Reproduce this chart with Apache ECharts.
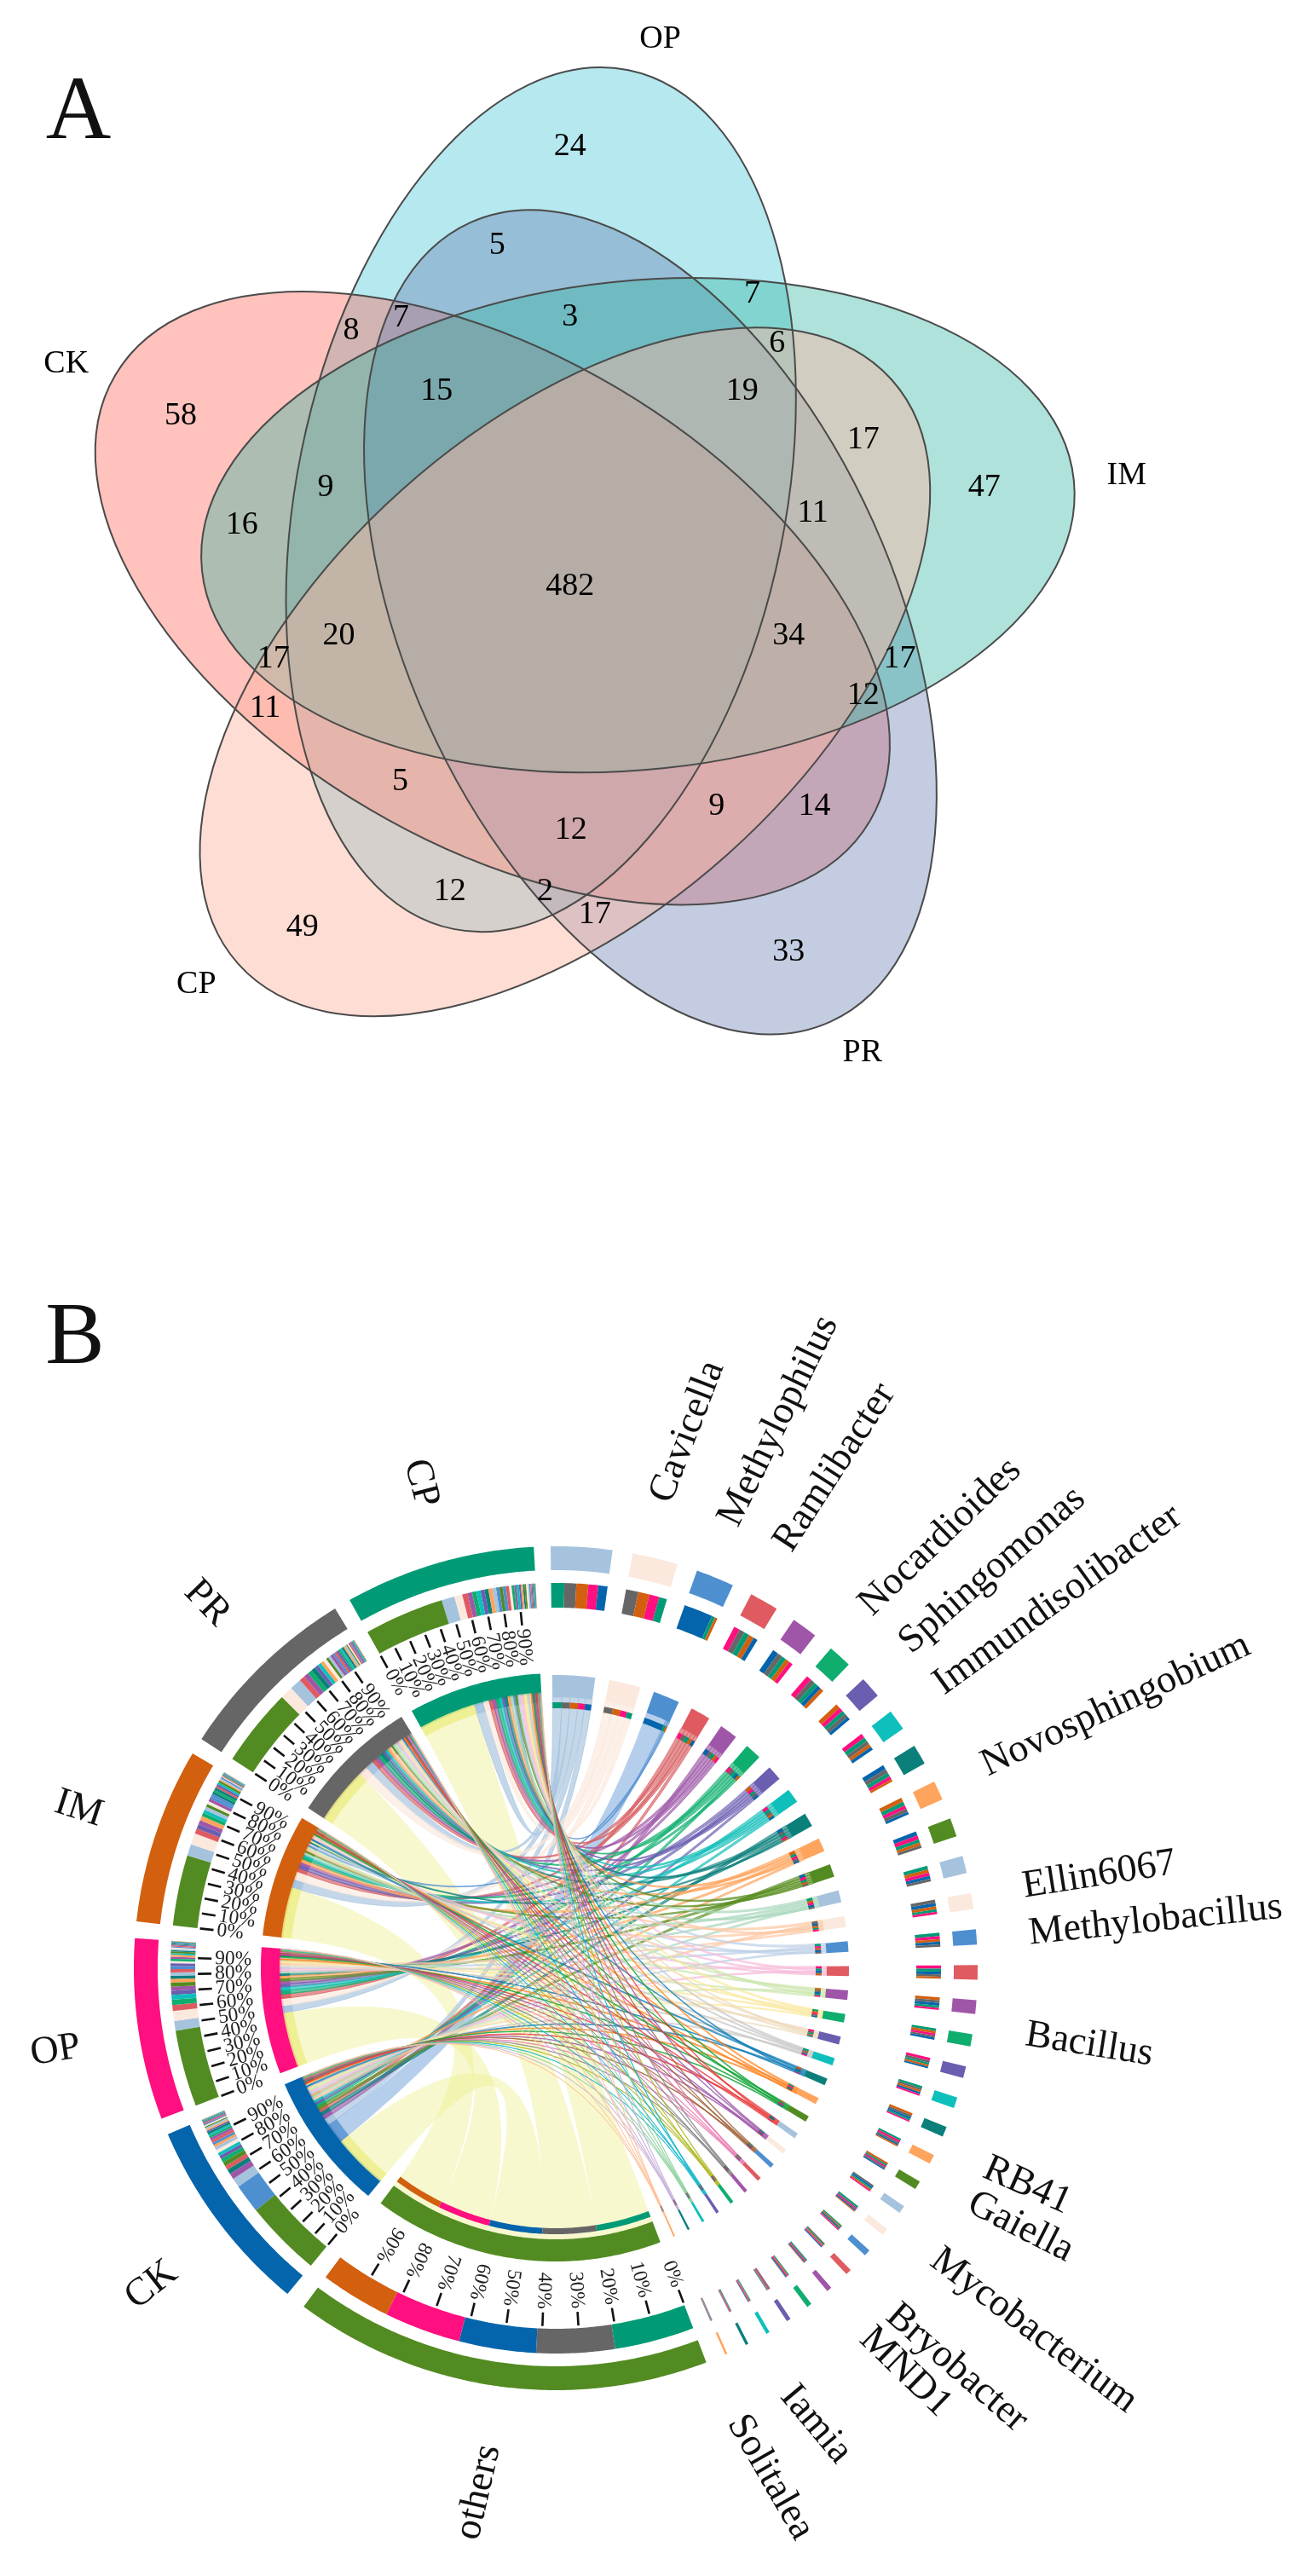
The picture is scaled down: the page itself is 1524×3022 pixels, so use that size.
<!DOCTYPE html>
<html><head><meta charset="utf-8">
<script src="https://cdn.jsdelivr.net/npm/echarts@6/dist/echarts.min.js"></script>
<style>html,body{margin:0;padding:0;background:#fff}#c{width:1524px;height:3022px}</style>
</head><body><div id="c"></div>
<script>
// ---------- Panel A data ----------
const vennSets = ['OP','CK','PR','IM','CP'];
const vennCounts = [24,5,7,7,8,3,6,58,15,19,17,47,9,16,11,482,20,34,17,17,11,12,5,9,14,12,12,2,17,49,33];
const vennSetColors = ['#46C5D7','#FF6657','#697FB1','#34B6A2','#FDB4A0'];
const vennSetAlpha = [0.4,0.4,0.4,0.4,0.45];
// ---------- Panel B data ----------
const samples = ['CP','PR','IM','OP','CK'];
const sampleColors = ['#009B76','#666666','#D2600F','#FF0F7F','#0565AC'];
const othersShare = [12.1,11.9,10.7,11.6,11.7];
const taxaColorCycle = ['#A6C3DE','#FBE9DD','#4E8FD0','#DF5B61','#A056A8','#0FAE6E','#6A5EB0','#0FBFBB','#0B7F7A','#FFA45C','#528B22'];
const othersColor = '#528B22';
const othersRibbon = '#EDEF8A';
const ribbonColors = ['#A6C3DE','#FBE8DC','#5B93D3','#D85C5F','#9E57A9','#0AAE6D','#6A5EB2','#12BEB9','#0A7F7C','#FFA35A','#5A8F22','#A8D8BC','#FDC9A6','#BED0E8','#F7BEDB','#CDE6B0','#FBE8A0','#F0DCC0','#C9C9C9','#1680B8','#FF8420','#0AA030','#E83A3A','#9E57A9','#A0623A','#E878B0','#858585','#B0B820','#10B5CC','#8FD2A0','#C8B0DA','#FFC196'];
// rows: taxa clockwise from Cavicella; columns: CP, PR, IM, OP, CK
const taxaAbundance = [
[2.0,1.8,1.8,1.5,1.4],[1.2,1.9,1.7,1.5,0],[.5,0,.4,0,4.4],[.8,.85,.8,.9,.65],[.7,.75,.65,.6,.9],
[.65,.7,.55,.8,.6],[.6,.55,.7,.65,.5],[.65,.55,.5,.7,.5],[.6,.65,.35,.5,.7],[.6,.5,.65,.55,.4],
[.5,.4,.45,.6,.65],[.55,.4,.5,.5,.45],[.4,.5,.45,.35,.5],[.5,.35,.4,.45,.4],[.45,.35,.3,.5,.4],
[.35,.4,.45,.3,.4],[.4,.3,.35,.35,.3],[.3,.35,.3,.4,.25],[.35,.3,.3,.25,.3],[.25,.3,.35,.2,.3],
[.3,.25,.2,.3,.25],[.25,.2,.3,.25,.2],[.2,.25,.2,.2,.25],[.25,.2,.15,.2,.2],[.2,.15,.2,.15,.2],
[.15,.2,.15,.15,.15],[.15,.15,.1,.15,.15],[.15,.1,.15,.15,.15],[.1,.15,.1,.15,.1],[.1,.1,.1,.1,.1],
[.1,.1,.05,.1,.05],[.05,.1,.05,.05,.05]];
const tickLabels = ['0%','10%','20%','30%','40%','50%','60%','70%','80%','90%'];
const SERIF = '"Liberation Serif","Times New Roman",serif';

// ---------- Panel A layout (axis units: 1568 across the page width) ----------
const VY = 0.9188;
const vennShapes = [ // cx, cy, rx, ry, rotation deg ; same order as vennSets
 [653,603,529,295,78.5],[594.5,722,529,295,-30.6],[785,751,529,295,114.2],[770,634,529,295,5.9],[682,811,529,295,41.8]];
const vennCountPos = [[688,193],[600,322],[908,386],[484,418],[424,434],[688,417],[938,451],[218,546],[527,514],[896,514],[1042,578],[1188,641],[393,641],[292,690],[981,674],[688,770],[409,835],[952,835],[330,866],[1086,866],[320,931],[1042,914],[483,1027],[865,1059],[983,1059],[689,1091],[543,1171],[658,1171],[718,1202],[365,1218],[952,1251]].map(p=>[p[0],p[1]*VY]);
const vennNamePos = {OP:[797,52*VY],CK:[80,478*VY],IM:[1360,625*VY],CP:[237,1294*VY],PR:[1041,1383*VY]};

// ---------- Panel B layout ----------
const CX=652, CY=2309, GAP_T=2.8, GAP_S=2.3;
const R={outer:[467,495],mid:[423,452],inner:[322,346],taxaInner:[318,344],taxaStack:[305,312],taxaRibbon:318,sampleBand:[312,324],sampleRibbon:322,tick:[404,420],label:400};
const outerLabels = [ // text, x, y (reference crop units), rotation
 ['Cavicella',830,185,69],['Methylophilus',940,172,64],['Ramlibacter',1008,228,57],['Nocardioides',1135,312,44],['Sphingomonas',1198,352,41],['Immundisolibacter',1277,388,36],['Novosphingobium',1347,515,25],['Ellin6067',1327,720,9],['Methylobacillus',1395,775,6],['Bacillus',1315,925,-9],['RB41',1240,1095,-24],['Gaiella',1232,1145,-27],['Mycobacterium',1248,1270,-37],['Bryobacter',1155,1315,-41],['MND1',1093,1320,-44],['Iamia',985,1383,-50],['Solitalea',930,1447,-60],['others',578,1465,77],['CP',508,247,-75],['PR',250,392,-46],['IM',95,640,-18],['OP',67,932,9],['CK',183,1215,38]];

// ---------- derive sectors ----------
const matrix = taxaAbundance.concat([othersShare]); // last row = others
const nT = matrix.length;
const ringSamples = [4,3,2,1,0]; // CK, OP, IM, PR, CP clockwise
let cur = 0; const taxaSec = [], sampleSec = {};
for (let t=0;t<nT;t++){ const size=matrix[t].reduce((a,b)=>a+b,0); taxaSec.push({a0:cur,a1:cur+size}); cur+=size+GAP_T; }
ringSamples.forEach(s=>{ const size=matrix.reduce((a,r)=>a+r[s],0); sampleSec[s]={a0:cur,a1:cur+size}; cur+=size+GAP_S; });
const TOTAL = cur;
const flows = [];
matrix.forEach((row,t)=>{ let a=taxaSec[t].a0;
  row.map((v,s)=>[v,s]).filter(x=>x[0]>0).sort((p,q)=>q[0]-p[0]).forEach(([v,s])=>{ flows.push({t,s,v,b0:a,b1:a+v}); a+=v; }); });
samples.forEach((_,s)=>{ let a=sampleSec[s].a0;
  flows.filter(f=>f.s===s).sort((p,q)=>q.v-p.v).forEach(f=>{ f.a0=a; f.a1=a+f.v; a+=f.v; }); });
const taxaCol = t => t===nT-1?othersColor:taxaColorCycle[t%taxaColorCycle.length];
const ribCol = t => t===nT-1?othersRibbon:ribbonColors[t];

const rings = [];
const ring=(r,a0,a1,color,alpha)=>rings.push({r0:r[0],r1:r[1],a0,a1,color,alpha:alpha==null?1:alpha});
taxaSec.forEach((s,t)=>{ ring(R.outer,s.a0,s.a1,taxaCol(t)); ring(R.taxaInner,s.a0,s.a1,taxaCol(t)); });
samples.forEach((_,s)=>{ const q=sampleSec[s]; ring(R.outer,q.a0,q.a1,sampleColors[s]); ring(R.inner,q.a0,q.a1,sampleColors[s]); });
flows.forEach(f=>{
  ring(R.mid,f.b0,f.b1,sampleColors[f.s]);
  ring(R.mid,f.a0,f.a1,taxaCol(f.t));
  ring(R.taxaStack,f.b0,f.b1,sampleColors[f.s]);
  ring(R.sampleBand,f.a0,f.a1,ribCol(f.t),0.85);
});
const tickSecs = [{sec:taxaSec[nT-1],out:true}].concat(samples.map((_,s)=>({sec:sampleSec[s],out:false})));
const ticks=[]; tickSecs.forEach(o=>tickLabels.forEach((txt,i)=>ticks.push({a:o.sec.a0+(o.sec.a1-o.sec.a0)*i/10,txt,out:o.out})));

function arcPts(api,r,a0,a1){ const n=Math.max(2,Math.ceil(Math.abs(a1-a0)/0.5)+1),p=[]; for(let i=0;i<n;i++){ p.push(api.coord([r,a0+(a1-a0)*i/(n-1)]).slice(0,2)); } return p; }
const chart = echarts.init(document.getElementById('c'),null,{renderer:'canvas',width:1524,height:3022});
const vennItem = stroke => (p,api)=>{ const s=vennShapes[p.dataIndex],c=api.coord([s[0],s[1]]),sz=api.size([s[2],s[3]]);
  return {type:'ellipse',x:c[0],y:c[1],rotation:s[4]*Math.PI/180,shape:{cx:0,cy:0,rx:sz[0],ry:sz[1]},
    style:stroke?{fill:'none',stroke:'#4a4a4a',lineWidth:2}:{fill:vennSetColors[p.dataIndex],opacity:vennSetAlpha[p.dataIndex]}}; };
chart.setOption({
 animation:false, backgroundColor:'#fff',
 grid:{left:0,top:0,width:1524,height:1400,containLabel:false},
 xAxis:{type:'value',min:0,max:1568,show:false},
 yAxis:{type:'value',min:0,max:1440.5,inverse:true,show:false},
 polar:{center:[CX,CY],radius:[0,500]},
 angleAxis:{type:'value',min:0,max:TOTAL,startAngle:90.7,clockwise:true,show:false},
 radiusAxis:{type:'value',min:0,max:500,show:false},
 series:[
  {type:'custom',coordinateSystem:'cartesian2d',silent:true,clip:false,z:1,data:vennShapes.map((s,i)=>[s[0],s[1],i]),renderItem:vennItem(false)},
  {type:'custom',coordinateSystem:'cartesian2d',silent:true,clip:false,z:2,data:vennShapes.map((s,i)=>[s[0],s[1],i]),renderItem:vennItem(true)},
  {type:'scatter',coordinateSystem:'cartesian2d',symbolSize:1,itemStyle:{color:'transparent'},silent:true,z:3,
   data:vennCounts.map((n,i)=>({name:String(n),value:vennCountPos[i]})),
   label:{show:true,position:'inside',formatter:'{b}',color:'#000',opacity:1,fontFamily:SERIF,fontSize:38}},
  {type:'scatter',coordinateSystem:'cartesian2d',symbolSize:1,itemStyle:{color:'transparent'},silent:true,z:3,
   data:vennSets.map(n=>({name:n,value:vennNamePos[n]})),
   label:{show:true,position:'inside',formatter:'{b}',color:'#000',opacity:1,fontFamily:SERIF,fontSize:38}},
  ...[flows.filter(f=>f.t===nT-1),flows.filter(f=>f.t!==nT-1)].map((fl,k)=>({
   type:'custom',coordinateSystem:'polar',silent:true,clip:false,z:4+k,progressive:0,
   data:fl.map(f=>[R.sampleRibbon,f.a0]),
   renderItem:(p,api)=>{ const f=fl[p.dataIndex];
     const A=arcPts(api,R.sampleRibbon,f.a0,f.a1),B=arcPts(api,R.taxaRibbon,f.b0,f.b1),C=api.coord([0,0]);
     let d='M'+A[0][0]+' '+A[0][1]; A.slice(1).forEach(q=>d+='L'+q[0]+' '+q[1]);
     d+='Q'+C[0]+' '+C[1]+' '+B[0][0]+' '+B[0][1]; B.slice(1).forEach(q=>d+='L'+q[0]+' '+q[1]);
     d+='Q'+C[0]+' '+C[1]+' '+A[0][0]+' '+A[0][1]+'Z';
     const style = k===0?{fill:ribCol(f.t),opacity:0.42}
       : f.v>=3?{fill:ribCol(f.t),opacity:0.45}
       : {fill:ribCol(f.t),opacity:0.66,stroke:ribCol(f.t),lineWidth:1};
     return {type:'path',shape:{pathData:d},style}; }})),
  {type:'custom',coordinateSystem:'polar',silent:true,clip:false,z:7,progressive:0,
   data:rings.map(r=>[r.r1,r.a0]),
   renderItem:(p,api)=>{ const r=rings[p.dataIndex];
     const pts=arcPts(api,r.r1,r.a0,r.a1).concat(arcPts(api,r.r0,r.a1,r.a0));
     return {type:'polygon',shape:{points:pts},style:{fill:r.color,opacity:r.alpha}}; }},
  {type:'custom',coordinateSystem:'polar',silent:true,clip:false,z:8,progressive:0,
   data:ticks.map(t=>[R.tick[0],t.a]),
   renderItem:(p,api)=>{ const t=ticks[p.dataIndex];
     const a=api.coord([R.tick[0],t.a]),b=api.coord([R.tick[1],t.a]),c=api.coord([R.label,t.a]),o=api.coord([0,0]);
     const ang=Math.atan2(c[1]-o[1],c[0]-o[0]);
     const rot=t.out?-ang:-(ang+Math.PI);
     return {type:'group',children:[
       {type:'line',shape:{x1:a[0],y1:a[1],x2:b[0],y2:b[1]},style:{stroke:'#111',lineWidth:2.6}},
       {type:'text',x:c[0],y:c[1],rotation:rot,style:{text:t.txt,x:0,y:0,fill:'#222',font:'23.5px '+SERIF,textAlign:t.out?'right':'left',textVerticalAlign:'middle',verticalAlign:'middle'}}
     ]}; }}
 ],
 graphic:[
  {type:'text',silent:true,x:92,y:134,z:10,style:{text:'A',x:0,y:0,font:'106px '+SERIF,fill:'#111',textAlign:'center',textVerticalAlign:'middle',verticalAlign:'middle'}},
  {type:'text',silent:true,x:88,y:1572,z:10,style:{text:'B',x:0,y:0,font:'104px '+SERIF,fill:'#111',textAlign:'center',textVerticalAlign:'middle',verticalAlign:'middle'}},
  ...outerLabels.map(l=>({type:'text',silent:true,x:l[1]/1.029,y:1500+l[2]/1.029,rotation:l[3]*Math.PI/180,z:10,
     style:{text:l[0],x:0,y:0,font:'46px '+SERIF,fill:'#111',textAlign:'center',textVerticalAlign:'middle',verticalAlign:'middle'}}))
 ]
});
</script></body></html>
